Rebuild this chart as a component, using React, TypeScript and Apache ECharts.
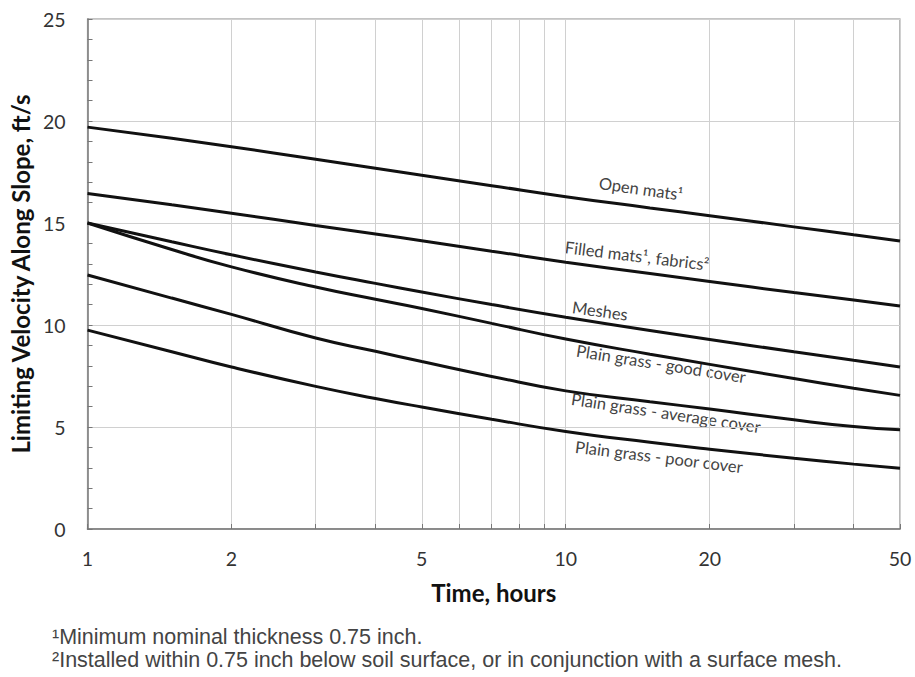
import React, { useEffect, useRef } from "react";
import * as echarts from "echarts";

const hours = [1, 1.5, 2, 3, 4, 5, 7, 10, 15, 20, 30, 40, 50];
const openMats = [19.7, 19.15, 18.74, 18.12, 17.68, 17.34, 16.83, 16.29, 15.74, 15.36, 14.81, 14.42, 14.12];
const filledMats = [16.45, 15.89, 15.48, 14.88, 14.46, 14.13, 13.62, 13.08, 12.52, 12.13, 11.59, 11.22, 10.93];
const meshes = [15, 14.08, 13.44, 12.6, 12.04, 11.62, 11.0, 10.38, 9.73, 9.29, 8.69, 8.27, 7.94];
const goodCover = [15, 13.7, 12.85, 11.86, 11.26, 10.81, 10.08, 9.31, 8.57, 8.07, 7.38, 6.9, 6.55];
const averageCover = [12.45, 11.32, 10.52, 9.36, 8.71, 8.21, 7.48, 6.77, 6.24, 5.88, 5.35, 5.02, 4.86];
const poorCover = [9.75, 8.69, 7.94, 6.99, 6.4, 5.98, 5.38, 4.78, 4.25, 3.91, 3.47, 3.18, 2.98];

const xTickValues = [1, 2, 3, 4, 5, 6, 7, 8, 9, 10, 20, 30, 40, 50];
const xLabelValues = [1, 2, 5, 10, 20, 50];

const seriesNames = [
  "Open mats¹",
  "Filled mats¹, fabrics²",
  "Meshes",
  "Plain grass - good cover",
  "Plain grass - average cover",
  "Plain grass - poor cover",
];
const seriesValues = [openMats, filledMats, meshes, goodCover, averageCover, poorCover];

const footnotes = [
  "¹Minimum nominal thickness 0.75 inch.",
  "²Installed within 0.75 inch below soil surface, or in conjunction with a surface mesh.",
];

// caption placements (pixel centres and angles) for curve captions
const captionPlacement = [
  { x: 641, y: 189, angle: 8 },
  { x: 637, y: 256, angle: 7 },
  { x: 600, y: 311, angle: 8 },
  { x: 661, y: 364, angle: 9 },
  { x: 666, y: 413, angle: 8.5 },
  { x: 659, y: 457, angle: 7 },
];

export default function App() {
  const ref = useRef<HTMLDivElement>(null);
  useEffect(() => {
    if (!ref.current) return;
    const chart = echarts.init(ref.current, null, { renderer: "svg" });
    const labelFont = "Lato, 'Open Sans', sans-serif";
    chart.setOption({
      animation: false,
      backgroundColor: "#ffffff",
      grid: {
        left: 87,
        right: 15,
        top: 19,
        bottom: 148,
        show: true,
        borderColor: "#8a8a8a",
        borderWidth: 1.2,
      },
      xAxis: {
        type: "log",
        logBase: 10,
        min: 1,
        max: 50,
        name: "Time, hours",
        nameLocation: "middle",
        nameGap: 51,
        nameTextStyle: {
          fontFamily: labelFont,
          fontWeight: "bold",
          fontSize: 24,
          color: "#111",
        },
        axisLine: { show: true, lineStyle: { color: "#777", width: 1.5 } },
        axisTick: {
          show: true,
          inside: true,
          length: 5,
          customValues: xTickValues,
          lineStyle: { color: "#777" },
        },
        axisLabel: {
          customValues: xLabelValues,
          margin: 19,
          fontFamily: labelFont,
          fontSize: 19.5,
          color: "#333",
          formatter: (v: number) => String(Math.round(v)),
        },
        splitLine: { show: true, lineStyle: { color: "#d0d0d0", width: 1 } },
      },
      yAxis: {
        type: "value",
        min: 0,
        max: 25,
        interval: 5,
        name: "Limiting Velocity Along Slope, ft/s",
        nameLocation: "middle",
        nameGap: 53,
        nameTextStyle: {
          fontFamily: labelFont,
          fontWeight: "bold",
          fontSize: 24,
          color: "#111",
        },
        axisLine: { show: true, lineStyle: { color: "#777", width: 1.5 } },
        axisTick: { show: true, inside: true, length: 5, lineStyle: { color: "#777" } },
        minorTick: { show: true, splitNumber: 5, length: 5, lineStyle: { color: "#777" } },
        axisLabel: {
          margin: 22,
          fontFamily: labelFont,
          fontSize: 19.5,
          color: "#333",
        },
        splitLine: { show: true, lineStyle: { color: "#d0d0d0", width: 1 } },
      },
      series: seriesValues.map((vals, i) => ({
        name: seriesNames[i],
        type: "line",
        data: hours.map((h, j) => [h, vals[j]]),
        smooth: 0.5,
        symbol: "none",
        z: 3,
        lineStyle: { color: "#111", width: 3 },
      })),
      graphic: [
        ...seriesNames.map((name, i) => ({
          type: "text",
          x: captionPlacement[i].x,
          y: captionPlacement[i].y,
          rotation: (-captionPlacement[i].angle * Math.PI) / 180,
          style: {
            text: name,
            align: "center",
            verticalAlign: "middle",
            fontFamily: labelFont,
            fontSize: 16.5,
            fill: "#444",
          },
        })),
        ...footnotes.map((t, i) => ({
          type: "text",
          left: 52,
          top: 626 + i * 23,
          style: {
            text: t,
            fontFamily: "'Liberation Sans', Arial, sans-serif",
            fontSize: 21.5,
            fill: "#444",
          },
        })),
      ],
    });
    return () => chart.dispose();
  }, []);
  return (
    <div
      ref={ref}
      style={{ position: "fixed", left: 0, top: 0, width: 915, height: 677, background: "#fff" }}
    />
  );
}
